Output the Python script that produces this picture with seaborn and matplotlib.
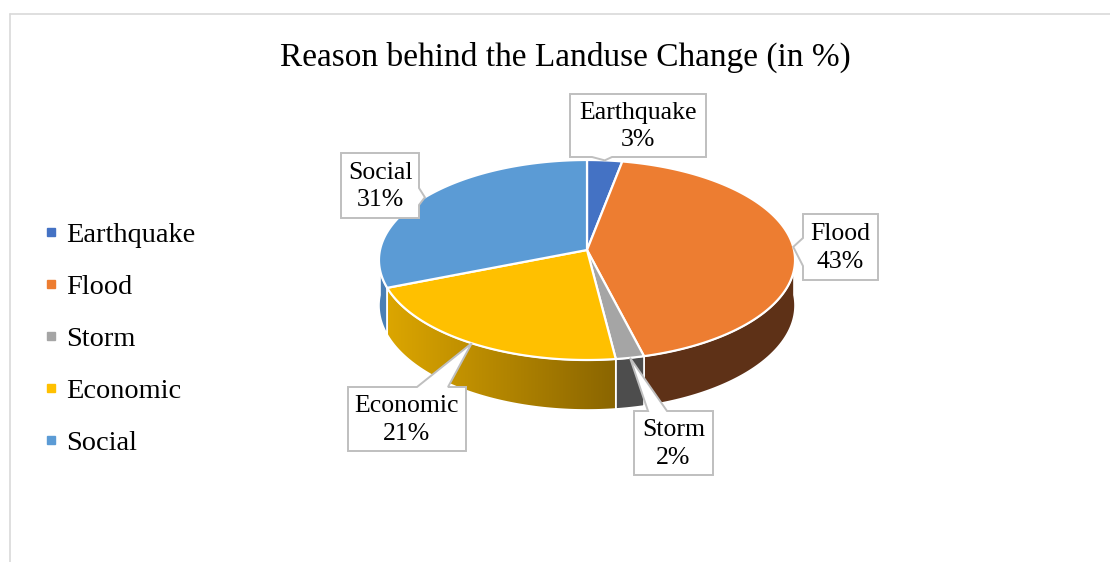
import numpy as np
import matplotlib
matplotlib.use("Agg")
import matplotlib.pyplot as plt
from matplotlib.patches import Polygon
from matplotlib.lines import Line2D
from matplotlib.colors import LinearSegmentedColormap
import seaborn as sns

# ---- data ----
categories = ["Earthquake", "Flood", "Storm", "Economic", "Social"]
shares = [3, 43, 2, 21, 31]
title = "Reason behind the Landuse Change (in %)"

sns.set_theme(style="white")
plt.rcParams["font.family"] = ["Liberation Serif", "DejaVu Serif"]
plt.rcParams["text.color"] = "black"

top_colors = sns.color_palette(["#4472C4", "#ED7D31", "#A5A5A5", "#FFC000", "#5B9BD5"])
side_colors = ["#2F5597", "#5E3117", "#4D4D4D", None, "#4A7FB5"]
gradient_cmap = LinearSegmentedColormap.from_list("gold_side", ["#DCA600", "#8A6500"])

W, H, DPI = 1110, 562, 100
fig = plt.figure(figsize=(W / DPI, H / DPI), dpi=DPI)
ax = fig.add_axes([0, 0, 1, 1])
ax.set_xlim(0, W)
ax.set_ylim(H, 0)
ax.axis("off")

# chart frame
ax.add_line(Line2D([9.5, W], [13.5, 13.5], color="#D9D9D9", lw=1.2))
ax.add_line(Line2D([9.5, 9.5], [13.5, H], color="#D9D9D9", lw=1.2))

ax.text(565, 57, title, ha="center", va="center", fontsize=24, color="#000000")

# ---- tilted pie geometry (screen pixels) ----
CX, CY = 587, 250
RX, RY = 207, 99
PERSP = 0.1
DEPTH = 45


def rim(theta_cw, z=0.0):
    """Point on the pie rim; angle measured clockwise from 12 o'clock."""
    t = np.deg2rad(90 - np.asarray(theta_cw, dtype=float))
    u, w = np.cos(t), np.sin(t)
    s = 1 / (1 + PERSP * w)
    return CX + RX * u * s, CY - RY * w * s + z * s


angles = np.concatenate([[0], np.cumsum(shares)]) * 3.6
mids = (angles[:-1] + angles[1:]) / 2

# side walls (only the front half is visible)
for i in range(len(shares)):
    a, b = max(angles[i], 90), min(angles[i + 1], 270)
    if b <= a:
        continue
    th = np.linspace(a, b, 80)
    xt, yt = rim(th)
    xb, yb = rim(th[::-1], DEPTH)
    verts = np.column_stack([np.concatenate([xt, xb]), np.concatenate([yt, yb])])
    if side_colors[i] is None:
        poly = Polygon(verts, closed=True, facecolor="none", edgecolor="none", zorder=2)
        ax.add_patch(poly)
        grad = np.linspace(0, 1, 256).reshape(1, -1)
        im = ax.imshow(grad, cmap=gradient_cmap, aspect="auto", zorder=2,
                       extent=[verts[:, 0].min(), verts[:, 0].max(),
                               verts[:, 1].max(), verts[:, 1].min()])
        im.set_clip_path(poly)
        ax.add_patch(Polygon(verts, closed=True, facecolor="none",
                             edgecolor="white", lw=1.2, zorder=2.5))
    else:
        ax.add_patch(Polygon(verts, closed=True, facecolor=side_colors[i],
                             edgecolor="white", lw=1.2, zorder=2))

ax.set_xlim(0, W)
ax.set_ylim(H, 0)

# top faces
for i in range(len(shares)):
    th = np.linspace(angles[i], angles[i + 1], 120)
    xt, yt = rim(th)
    verts = np.column_stack([np.concatenate([[CX], xt]), np.concatenate([[CY], yt])])
    ax.add_patch(Polygon(verts, closed=True, facecolor=top_colors[i],
                         edgecolor="white", lw=1.6, joinstyle="round", zorder=3))

# ---- callout labels ----
callouts = {
    "Earthquake": dict(box=(570, 94, 706, 157), side="bottom", base=(592, 612)),
    "Flood": dict(box=(803, 214, 878, 280), side="left", base=(238, 266)),
    "Storm": dict(box=(634, 411, 713, 475), side="top", base=(648, 667)),
    "Economic": dict(box=(348, 387, 466, 451), side="top", base=(417, 448)),
    "Social": dict(box=(341, 153, 419, 218), side="right", base=(188, 205)),
}


def callout_shape(box, side, base, tip):
    x0, y0, x1, y1 = box
    pts = [(x0, y0)]
    if side == "top":
        pts += [(base[0], y0), tip, (base[1], y0)]
    pts.append((x1, y0))
    if side == "right":
        pts += [(x1, base[0]), tip, (x1, base[1])]
    pts.append((x1, y1))
    if side == "bottom":
        pts += [(base[1], y1), tip, (base[0], y1)]
    pts.append((x0, y1))
    if side == "left":
        pts += [(x0, base[1]), tip, (x0, base[0])]
    return np.array(pts)


for i, name in enumerate(categories):
    c = callouts[name]
    tip = rim(mids[i])
    shape = callout_shape(c["box"], c["side"], c["base"], tip)
    ax.add_patch(Polygon(shape, closed=True, facecolor="white",
                         edgecolor="#BFBFBF", lw=1.4, zorder=5))
    x0, y0, x1, y1 = c["box"]
    ax.text((x0 + x1) / 2, (y0 + y1) / 2 + 1, f"{name}\n{shares[i]}%",
            ha="center", va="center", fontsize=18.5, linespacing=1.3,
            color="#000000", zorder=6)

# ---- legend ----
handles = [Line2D([], [], marker="s", linestyle="", markersize=6,
                  markerfacecolor=top_colors[i], markeredgecolor=top_colors[i],
                  label=name) for i, name in enumerate(categories)]
leg = ax.legend(handles=handles, loc="center left",
                bbox_to_anchor=(44 / W, 1 - 339 / H), frameon=False,
                fontsize=20.4, handlelength=0.5, handletextpad=0.28,
                labelspacing=0.92, borderpad=0, borderaxespad=0,
                labelcolor="black")

fig.savefig("out.png", dpi=DPI, facecolor="white")
